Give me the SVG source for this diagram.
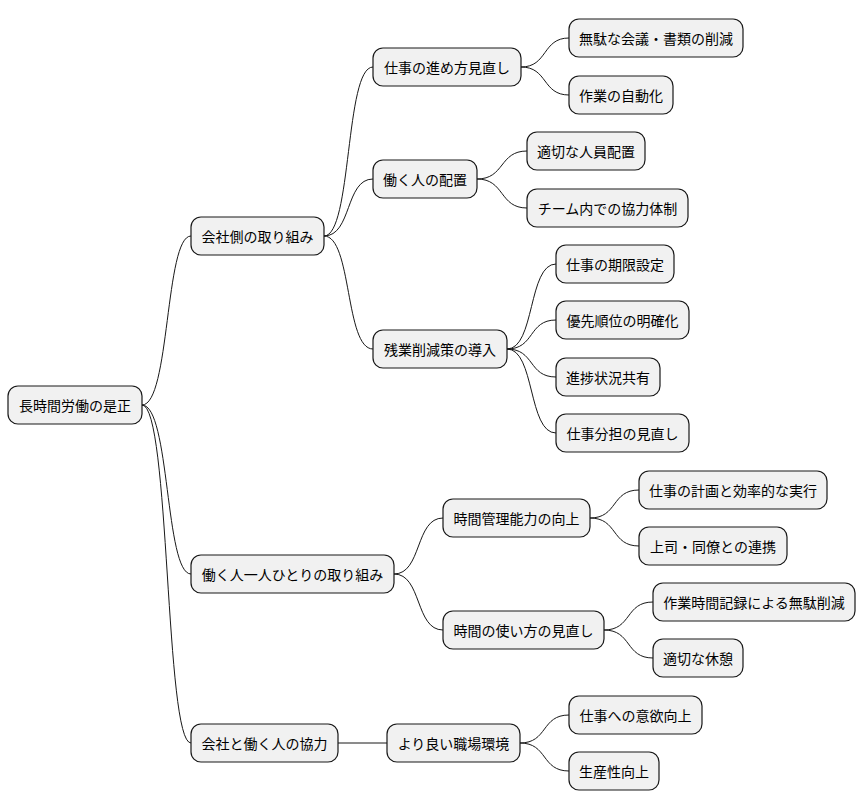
<svg xmlns="http://www.w3.org/2000/svg" width="866" height="809" viewBox="0 0 866 809">
<style>
.n rect{fill:#f1f1f1;stroke:#181818;stroke-width:1.2}
.n text{font-family:"Noto Sans CJK JP","Noto Sans CJK SC",sans-serif;font-size:14px;fill:#000;text-anchor:middle;dominant-baseline:central}
#c path{fill:none;stroke:#181818;stroke-width:1}
</style>
<rect width="866" height="809" fill="#fff"/>
<g id="c">
<path d="M142,405 C170,405 165,236 191,236"/>
<path d="M142,405 C170,405 165,574 191,574"/>
<path d="M142,405 C170,405 165,743 191,743"/>
<path d="M324,236 C352,236 345,67 373,67"/>
<path d="M324,236 C352,236 345,179 373,179"/>
<path d="M324,236 C352,236 345,349 373,349"/>
<path d="M394,574 C422,574 415,518 443,518"/>
<path d="M394,574 C422,574 415,630 443,630"/>
<path d="M338,743 L387,743"/>
<path d="M521,67 C548,67 542,38 569,38"/>
<path d="M521,67 C548,67 542,95 569,95"/>
<path d="M477,179 C505,179 499,151 527,151"/>
<path d="M477,179 C505,179 499,208 527,208"/>
<path d="M507,349 C535,349 528,264 556,264"/>
<path d="M507,349 C535,349 528,320 556,320"/>
<path d="M507,349 C535,349 528,377 556,377"/>
<path d="M507,349 C535,349 528,433 556,433"/>
<path d="M590,518 C618,518 611,490 639,490"/>
<path d="M590,518 C618,518 611,546 639,546"/>
<path d="M604,630 C632,630 625,602 653,602"/>
<path d="M604,630 C632,630 625,658 653,658"/>
<path d="M520,743 C548,743 541,715 569,715"/>
<path d="M520,743 C548,743 541,771 569,771"/>
</g>
<g id="root" class="n"><rect x="8" y="386" width="134" height="38" rx="10"/><text x="75" y="405">長時間労働の是正</text></g>
<g id="a" class="n"><rect x="191" y="217" width="133" height="38" rx="10"/><text x="257.5" y="236">会社側の取り組み</text></g>
<g id="b" class="n"><rect x="191" y="555" width="203" height="38" rx="10"/><text x="292.5" y="574">働く人一人ひとりの取り組み</text></g>
<g id="cc" class="n"><rect x="191" y="724" width="147" height="38" rx="10"/><text x="264.5" y="743">会社と働く人の協力</text></g>
<g id="a1" class="n"><rect x="373" y="48" width="148" height="38" rx="10"/><text x="447" y="67">仕事の進め方見直し</text></g>
<g id="a2" class="n"><rect x="373" y="160" width="104" height="38" rx="10"/><text x="425" y="179">働く人の配置</text></g>
<g id="a3" class="n"><rect x="373" y="330" width="134" height="38" rx="10"/><text x="440" y="349">残業削減策の導入</text></g>
<g id="b1" class="n"><rect x="443" y="499" width="147" height="38" rx="10"/><text x="516.5" y="518">時間管理能力の向上</text></g>
<g id="b2" class="n"><rect x="443" y="611" width="161" height="38" rx="10"/><text x="523.5" y="630">時間の使い方の見直し</text></g>
<g id="c1" class="n"><rect x="387" y="724" width="133" height="38" rx="10"/><text x="453.5" y="743">より良い職場環境</text></g>
<g id="a11" class="n"><rect x="569" y="19" width="174" height="38" rx="10"/><text x="656" y="38">無駄な会議・書類の削減</text></g>
<g id="a12" class="n"><rect x="569" y="76" width="104" height="38" rx="10"/><text x="621" y="95">作業の自動化</text></g>
<g id="a21" class="n"><rect x="527" y="132" width="118" height="38" rx="10"/><text x="586" y="151">適切な人員配置</text></g>
<g id="a22" class="n"><rect x="527" y="189" width="161" height="38" rx="10"/><text x="607.5" y="208">チーム内での協力体制</text></g>
<g id="a31" class="n"><rect x="556" y="245" width="118" height="38" rx="10"/><text x="615" y="264">仕事の期限設定</text></g>
<g id="a32" class="n"><rect x="556" y="301" width="133" height="38" rx="10"/><text x="622.5" y="320">優先順位の明確化</text></g>
<g id="a33" class="n"><rect x="556" y="358" width="104" height="38" rx="10"/><text x="608" y="377">進捗状況共有</text></g>
<g id="a34" class="n"><rect x="556" y="414" width="133" height="38" rx="10"/><text x="622.5" y="433">仕事分担の見直し</text></g>
<g id="b11" class="n"><rect x="639" y="471" width="188" height="38" rx="10"/><text x="733" y="490">仕事の計画と効率的な実行</text></g>
<g id="b12" class="n"><rect x="639" y="527" width="148" height="38" rx="10"/><text x="713" y="546">上司・同僚との連携</text></g>
<g id="b21" class="n"><rect x="653" y="583" width="202" height="38" rx="10"/><text x="754" y="602">作業時間記録による無駄削減</text></g>
<g id="b22" class="n"><rect x="653" y="639" width="90" height="38" rx="10"/><text x="698" y="658">適切な休憩</text></g>
<g id="c11" class="n"><rect x="569" y="696" width="133" height="38" rx="10"/><text x="635.5" y="715">仕事への意欲向上</text></g>
<g id="c12" class="n"><rect x="569" y="752" width="90" height="38" rx="10"/><text x="614" y="771">生産性向上</text></g>
</svg>
